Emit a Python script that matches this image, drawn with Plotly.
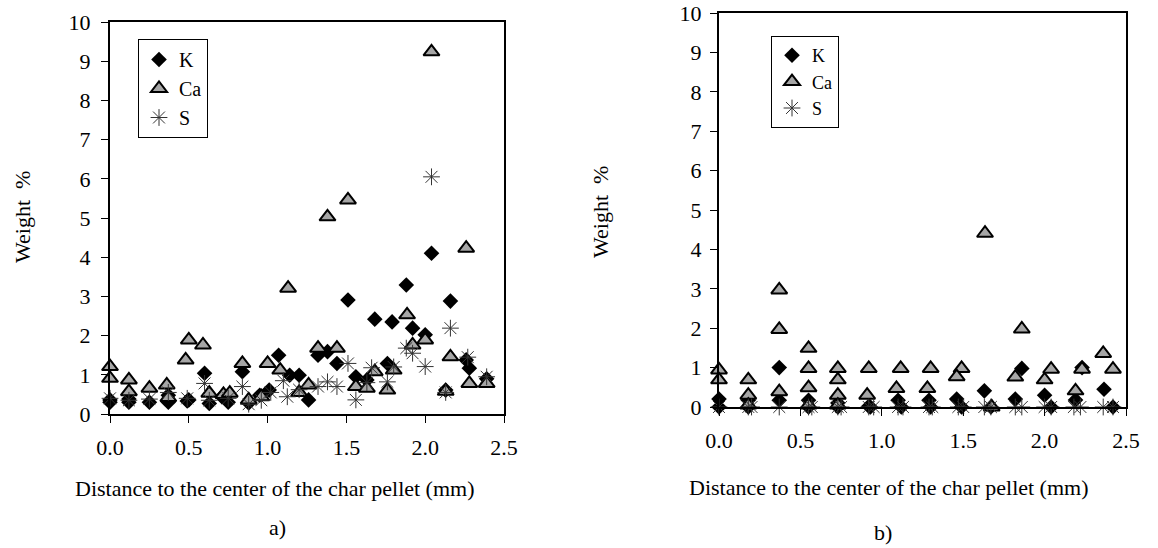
import plotly.graph_objects as go

# ---------------- Panel a) data ----------------
k_a_x = [0.0, 0.0, 0.12, 0.12, 0.25, 0.37, 0.37, 0.49, 0.50, 0.60, 0.63, 0.71, 0.75, 0.84, 0.88, 0.95,
         1.01, 1.07, 1.14, 1.20, 1.26, 1.32, 1.38, 1.44, 1.51, 1.56, 1.63, 1.68, 1.76, 1.79, 1.88, 1.92,
         2.00, 2.04, 2.13, 2.16, 2.26, 2.28, 2.39]
k_a_y = [0.30, 0.36, 0.30, 0.38, 0.30, 0.30, 0.48, 0.33, 0.36, 1.04, 0.27, 0.44, 0.30, 1.08, 0.28, 0.48,
         0.61, 1.50, 0.99, 0.99, 0.36, 1.50, 1.59, 1.29, 2.91, 0.95, 0.87, 2.42, 1.29, 2.35, 3.29, 2.19,
         2.02, 4.10, 0.61, 2.88, 1.38, 1.17, 0.90]

ca_a_x = [0.0, 0.0, 0.12, 0.12, 0.25, 0.36, 0.37, 0.48, 0.50, 0.59, 0.63, 0.72, 0.76, 0.84, 0.88, 0.96,
          1.00, 1.08, 1.13, 1.20, 1.26, 1.32, 1.38, 1.44, 1.51, 1.56, 1.63, 1.68, 1.76, 1.80, 1.885, 1.92,
          2.00, 2.04, 2.13, 2.16, 2.26, 2.28, 2.39]
ca_a_y = [1.21, 0.91, 0.87, 0.57, 0.66, 0.74, 0.42, 1.38, 1.89, 1.76, 0.53, 0.50, 0.53, 1.29, 0.36, 0.44,
          1.29, 1.12, 3.21, 0.55, 0.74, 1.68, 5.03, 1.68, 5.46, 0.70, 0.66, 1.08, 0.61, 1.12, 2.53, 1.76,
          1.89, 9.24, 0.58, 1.46, 4.23, 0.78, 0.78]

s_a_x = [0.0, 0.12, 0.25, 0.37, 0.49, 0.60, 0.63, 0.75, 0.84, 0.88, 0.96, 1.02, 1.10, 1.125, 1.20,
         1.32, 1.38, 1.44, 1.51, 1.56, 1.63, 1.66, 1.76, 1.80, 1.88, 1.92, 2.00, 2.04, 2.13, 2.16, 2.27, 2.39]
s_a_y = [0.40, 0.35, 0.38, 0.55, 0.40, 0.78, 0.35, 0.40, 0.70, 0.25, 0.35, 0.55, 0.85, 0.44, 0.62,
         0.70, 0.82, 0.70, 1.29, 0.36, 0.80, 1.18, 0.82, 1.20, 1.68, 1.55, 1.21, 6.05, 0.55, 2.19, 1.45, 0.95]

# ---------------- Panel b) data ----------------
k_b_x = [0.0, 0.0, 0.18, 0.18, 0.37, 0.37, 0.55, 0.55, 0.73, 0.73, 0.92, 0.93, 1.10, 1.12, 1.29, 1.30,
         1.46, 1.49, 1.63, 1.67, 1.82, 1.86, 2.00, 2.04, 2.19, 2.23, 2.365, 2.42]
k_b_y = [0.20, 0.0, 0.17, 0.0, 1.00, 0.17, 0.17, 0.0, 0.10, 0.0, 0.02, 0.0, 0.17, 0.0, 0.17, 0.0,
         0.20, 0.0, 0.41, 0.0, 0.20, 0.98, 0.30, 0.0, 0.18, 1.00, 0.45, 0.0]

ca_b_x = [0.0, 0.0, 0.18, 0.18, 0.18, 0.37, 0.37, 0.37, 0.55, 0.55, 0.55, 0.55, 0.73, 0.73, 0.73, 0.73,
          0.92, 0.91, 1.116, 1.09, 1.30, 1.28, 1.49, 1.46, 1.634, 1.675, 1.86, 1.82, 2.04, 2.00, 2.23, 2.19,
          2.36, 2.42]
ca_b_y = [0.94, 0.69, 0.69, 0.30, 0.05, 2.97, 1.97, 0.39, 1.49, 0.98, 0.49, 0.05, 0.98, 0.69, 0.30, 0.05,
          0.98, 0.30, 0.98, 0.47, 0.98, 0.47, 0.98, 0.77, 4.41, 0.0, 1.98, 0.76, 0.96, 0.69, 0.96, 0.41,
          1.36, 0.96]

s_b_x = [0.0, 0.18, 0.20, 0.37, 0.55, 0.57, 0.73, 0.75, 0.92, 0.95, 1.10, 1.13, 1.29, 1.31, 1.47, 1.50,
         1.63, 1.67, 1.82, 1.86, 2.00, 2.04, 2.18, 2.22, 2.36, 2.42]
s_b_y = [0.0] * len(s_b_x)

x_ticks = [0.0, 0.5, 1.0, 1.5, 2.0, 2.5]
y_ticks = [0, 1, 2, 3, 4, 5, 6, 7, 8, 9, 10]

FONT = "Liberation Serif"
GRAY = "#a6a6a6"

fig = go.Figure()


def add_panel(kx, ky, cx, cy, sx, sy, xa, ya, leg):
    fig.add_trace(go.Scatter(
        x=kx, y=ky, mode="markers", name="K", xaxis=xa, yaxis=ya, legend=leg,
        cliponaxis=False,
        marker=dict(symbol="diamond", size=12, color="black", line=dict(width=0))))
    fig.add_trace(go.Scatter(
        x=cx, y=cy, mode="markers", name="Ca", xaxis=xa, yaxis=ya, legend=leg,
        cliponaxis=False,
        marker=dict(symbol="triangle-up", size=14, color=GRAY, line=dict(width=2, color="black"))))
    fig.add_trace(go.Scatter(
        x=sx, y=sy, mode="markers", name="S", xaxis=xa, yaxis=ya, legend=leg,
        cliponaxis=False,
        marker=dict(symbol="asterisk-open", size=14, color="#333333", line=dict(width=1, color="#333333"))))


add_panel(k_a_x, k_a_y, ca_a_x, ca_a_y, s_a_x, s_a_y, "x", "y", "legend")
add_panel(k_b_x, k_b_y, ca_b_x, ca_b_y, s_b_x, s_b_y, "x2", "y2", "legend2")

W, H = 1158, 548

axis_common = dict(showline=True, mirror=True, linecolor="black", linewidth=2,
                   showgrid=False, zeroline=False, ticks="outside", ticklen=7,
                   tickcolor="black", tickwidth=1, automargin=False,
                   tickfont=dict(family=FONT, size=22, color="black"))

fig.update_layout(
    template="none",
    width=W, height=H,
    margin=dict(l=0, r=0, t=0, b=0, pad=0, autoexpand=False),
    paper_bgcolor="white", plot_bgcolor="white",
    font=dict(family=FONT, size=22, color="black"),
    xaxis=dict(domain=[110 / W, 504 / W], range=[0, 2.5], tickvals=x_ticks,
               tickformat=".1f", anchor="y", ticklabelstandoff=6, **axis_common),
    yaxis=dict(domain=[1 - 414 / H, 1 - 22 / H], range=[0, 10], tickvals=y_ticks,
               anchor="x", ticklabelstandoff=6, **axis_common),
    xaxis2=dict(domain=[719 / W, 1126 / W], range=[0, 2.5], tickvals=x_ticks,
                tickformat=".1f", anchor="y2", ticklabelstandoff=6, **axis_common),
    yaxis2=dict(domain=[1 - 407 / H, 1 - 13 / H], range=[0, 10], tickvals=y_ticks,
                anchor="x2", ticklabelstandoff=4, **axis_common),
    legend=dict(x=138 / W, y=1 - 39 / H, xanchor="left", yanchor="top",
                bordercolor="black", borderwidth=1, bgcolor="white",
                font=dict(family=FONT, size=20, color="black"), itemwidth=30),
    legend2=dict(x=771 / W, y=1 - 36 / H, xanchor="left", yanchor="top",
                 bordercolor="black", borderwidth=1, bgcolor="white",
                 font=dict(family=FONT, size=18, color="black"), itemwidth=30),
    showlegend=True,
)

annots = [
    dict(text="Distance to the center of the char pellet (mm)", x=275 / W, y=1 - 488 / H),
    dict(text="Distance to the center of the char pellet (mm)", x=889 / W, y=1 - 487 / H),
    dict(text="a)", x=277 / W, y=1 - 527 / H),
    dict(text="b)", x=883 / W, y=1 - 532 / H),
    dict(text="Weight  %", x=22 / W, y=1 - 217 / H, textangle=-90),
    dict(text="Weight  %", x=600 / W, y=1 - 212 / H, textangle=-90),
]
for a in annots:
    fig.add_annotation(xref="paper", yref="paper", showarrow=False,
                       xanchor="center", yanchor="middle",
                       font=dict(family=FONT, size=22, color="black"), **a)

fig.write_html("out.html",
               config={"displayModeBar": False},
               post_script="document.body.style.margin='0';document.body.style.padding='0';")
